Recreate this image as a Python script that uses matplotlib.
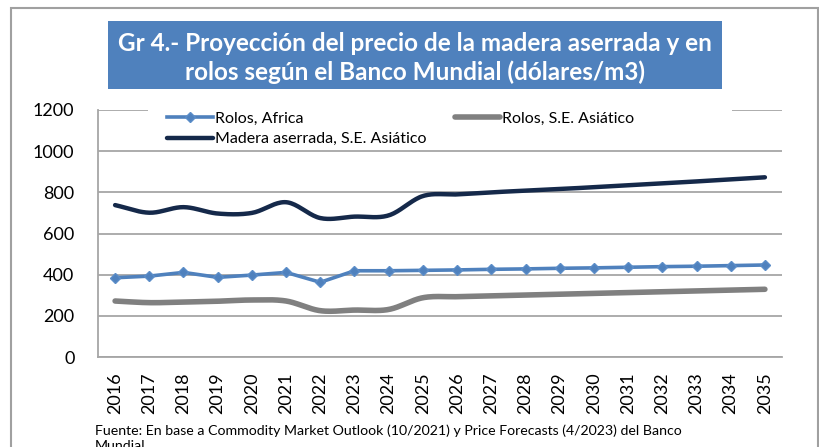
import numpy as np
import matplotlib.pyplot as plt
from matplotlib.patches import Rectangle

years = [str(y) for y in range(2016, 2036)]
rolos_africa = [385, 393, 411, 387, 398, 411, 363, 419, 419, 421,
                423, 426, 428, 431, 433, 436, 439, 441, 444, 447]
rolos_asia = [272, 264, 267, 271, 277, 272, 225, 228, 231, 288,
              293, 297, 301, 305, 309, 313, 317, 321, 325, 329]
madera_asia = [738, 701, 728, 697, 700, 752, 675, 682, 688, 782,
               790, 800, 808, 816, 825, 834, 843, 853, 863, 873]

plt.rcParams['font.family'] = ['Lato', 'DejaVu Sans']


def smooth(x, y, n=20):
    # catmull-rom curve through the points, like Excel's smoothed line
    x = np.asarray(x, float)
    y = np.asarray(y, float)
    px = np.concatenate([[2 * x[0] - x[1]], x, [2 * x[-1] - x[-2]]])
    py = np.concatenate([[2 * y[0] - y[1]], y, [2 * y[-1] - y[-2]]])
    xs, ys = [], []
    t = np.linspace(0, 1, n, endpoint=False)
    for i in range(1, len(px) - 2):
        for p, out in ((px, xs), (py, ys)):
            p0, p1, p2, p3 = p[i - 1], p[i], p[i + 1], p[i + 2]
            out.extend(0.5 * (2 * p1 + (-p0 + p2) * t
                              + (2 * p0 - 5 * p1 + 4 * p2 - p3) * t ** 2
                              + (-p0 + 3 * p1 - 3 * p2 + p3) * t ** 3))
    xs.append(x[-1])
    ys.append(y[-1])
    return xs, ys


fig = plt.figure(figsize=(8.2, 4.47), dpi=100)
ax = fig.add_axes([98 / 820, 1 - 357 / 447, 684 / 820, 247 / 447])

x = np.arange(len(years))
h1, = ax.plot(x, rolos_africa, color='#4F81BD', lw=2.6, marker='D',
              markersize=5.5, markeredgecolor='#5B8DC8', label='Rolos, Africa',
              zorder=4)
sx, sy = smooth(x, rolos_asia)
h2, = ax.plot(sx, sy, color='#808080', lw=4, solid_capstyle='round',
              label='Rolos, S.E. Asiático', zorder=3)
sx, sy = smooth(x, madera_asia)
h3, = ax.plot(sx, sy, color='#15294A', lw=3.2, solid_capstyle='round',
              label='Madera aserrada, S.E. Asiático', zorder=3)

ax.set_xlim(-0.5, len(years) - 0.5)
ax.set_ylim(0, 1200)
ax.set_yticks(range(0, 1201, 200))
ax.set_xticks(x)
ax.set_xticklabels(years, rotation=90)
ax.tick_params(length=0, labelsize=13, colors='black')
ax.tick_params(axis='y', pad=17)
ax.tick_params(axis='x', pad=11)
ax.grid(axis='y', color='#a6a6a6', lw=1.3)
ax.set_axisbelow(True)
for s in ['top', 'right']:
    ax.spines[s].set_visible(False)
for s in ['left', 'bottom']:
    ax.spines[s].set_color('#a6a6a6')
    ax.spines[s].set_linewidth(1.3)

# white legend area hides the top gridline
ax.add_patch(Rectangle((50 / 684, 1 - 2 / 247), 584 / 684, 40 / 247,
                       transform=ax.transAxes, facecolor='white',
                       edgecolor='none', clip_on=False, zorder=2))
leg = ax.legend([h1, h3, h2], [h1.get_label(), h3.get_label(), h2.get_label()],
                ncol=2, loc='upper left', bbox_to_anchor=(58 / 684, 1.04),
                fontsize=11.5, frameon=False, handlelength=2.85,
                handletextpad=0.15, columnspacing=1.75, borderpad=0.2,
                labelspacing=0.42)
leg.set_zorder(5)

# title box
fig.patches.append(Rectangle((108 / 820, 1 - 89 / 447), 614 / 820, 68 / 447,
                             transform=fig.transFigure, facecolor='#4F81BD',
                             edgecolor='none'))
fig.text(415 / 820, 1 - 58 / 447,
         'Gr 4.- Proyección del precio de la madera aserrada y en\n'
         'rolos según el Banco Mundial (dólares/m3)',
         ha='center', va='center', color='white', fontsize=17.5,
         fontweight='bold', linespacing=1.28)

# outer border
fig.patches.append(Rectangle((11 / 820, -0.05), 807 / 820, 1.05 - 8 / 447,
                             transform=fig.transFigure, facecolor='none',
                             edgecolor='#a0a0a0', lw=1.5))

fig.text(95 / 820, 1 - 424 / 447,
         'Fuente: En base a Commodity Market Outlook (10/2021) y Price Forecasts (4/2023) del Banco\nMundial',
         ha='left', va='top', fontsize=10.2, linespacing=1.3)

fig.savefig('out.png', dpi=100)
